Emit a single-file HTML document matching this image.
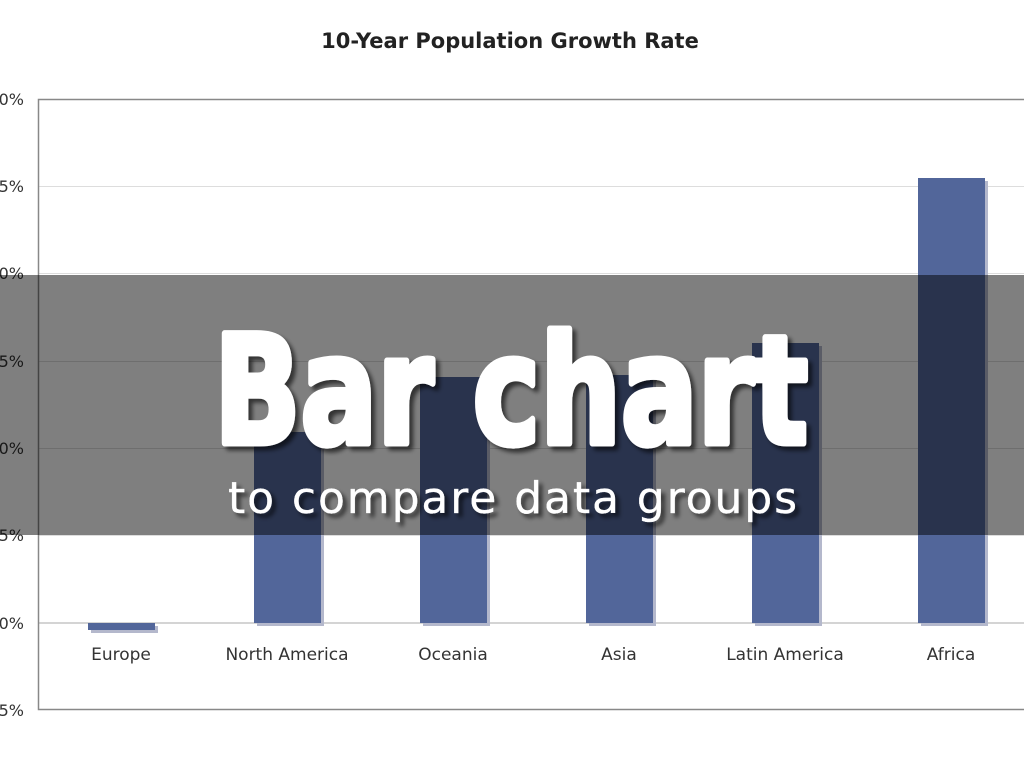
<!DOCTYPE html>
<html><head><meta charset="utf-8"><style>
html,body{margin:0;padding:0;background:#fff;width:1024px;height:768px;overflow:hidden}
svg{display:block}
text{font-family:"DejaVu Sans","Liberation Sans",sans-serif}
</style></head><body>
<svg width="1024" height="768" viewBox="0 0 1024 768" xmlns="http://www.w3.org/2000/svg">
<defs>
<filter id="sh" x="-10%" y="-10%" width="130%" height="130%">
<feDropShadow dx="4" dy="4" stdDeviation="2" flood-color="#000" flood-opacity="0.6"/>
</filter>
</defs>
<rect width="1024" height="768" fill="#fff"/>
<text x="510" y="48" text-anchor="middle" font-size="21" font-weight="bold" fill="#222">10-Year Population Growth Rate</text>
<g stroke="#ddd" stroke-width="1">
<line x1="38" y1="186.5" x2="1024" y2="186.5"/>
<line x1="38" y1="273.5" x2="1024" y2="273.5"/>
<line x1="38" y1="361.5" x2="1024" y2="361.5"/>
<line x1="38" y1="448.5" x2="1024" y2="448.5"/>
<line x1="38" y1="535.5" x2="1024" y2="535.5"/>
</g>
<line x1="38" y1="623" x2="1024" y2="623" stroke="#aaa" stroke-width="1"/>
<g stroke="#888" stroke-width="1.5" fill="none">
<polyline points="1024,99.5 38.5,99.5 38.5,709.5 1024,709.5"/>
</g>
<g font-size="16" fill="#333" text-anchor="end">
<text x="24" y="105">30%</text>
<text x="24" y="192">25%</text>
<text x="24" y="279">20%</text>
<text x="24" y="367">15%</text>
<text x="24" y="454">10%</text>
<text x="24" y="541">5%</text>
<text x="24" y="629">0%</text>
<text x="24" y="716">-5%</text>
</g>
<g fill="#b4b8cc">
<rect x="91" y="626" width="67" height="7"/>
<rect x="257" y="435" width="67" height="191"/>
<rect x="423" y="380" width="67" height="246"/>
<rect x="589" y="378" width="67" height="248"/>
<rect x="755" y="346" width="67" height="280"/>
<rect x="921" y="181" width="67" height="445"/>
</g>
<g fill="#52669a">
<rect x="88" y="623" width="67" height="7"/>
<rect x="254" y="432" width="67" height="191"/>
<rect x="420" y="377" width="67" height="246"/>
<rect x="586" y="375" width="67" height="248"/>
<rect x="752" y="343" width="67" height="280"/>
<rect x="918" y="178" width="67" height="445"/>
</g>
<g font-size="17" fill="#333" text-anchor="middle">
<text x="121" y="660">Europe</text>
<text x="287" y="660">North America</text>
<text x="453" y="660">Oceania</text>
<text x="619" y="660">Asia</text>
<text x="785" y="660">Latin America</text>
<text x="951" y="660">Africa</text>
</g>
<rect x="0" y="275" width="1024" height="260" fill="#000" fill-opacity="0.5"/>
<g filter="url(#sh)" fill="#fff" stroke="#fff">
<text x="214" y="443" font-family="Liberation Sans, sans-serif" font-size="150" font-weight="bold" stroke-width="7" stroke-linejoin="round" textLength="594" lengthAdjust="spacingAndGlyphs">Bar chart</text>
<text x="228" y="513" font-family="Liberation Sans, sans-serif" font-size="44" stroke-width="0.3" textLength="569" lengthAdjust="spacing">to compare data groups</text>
</g>
</svg>
</body></html>
